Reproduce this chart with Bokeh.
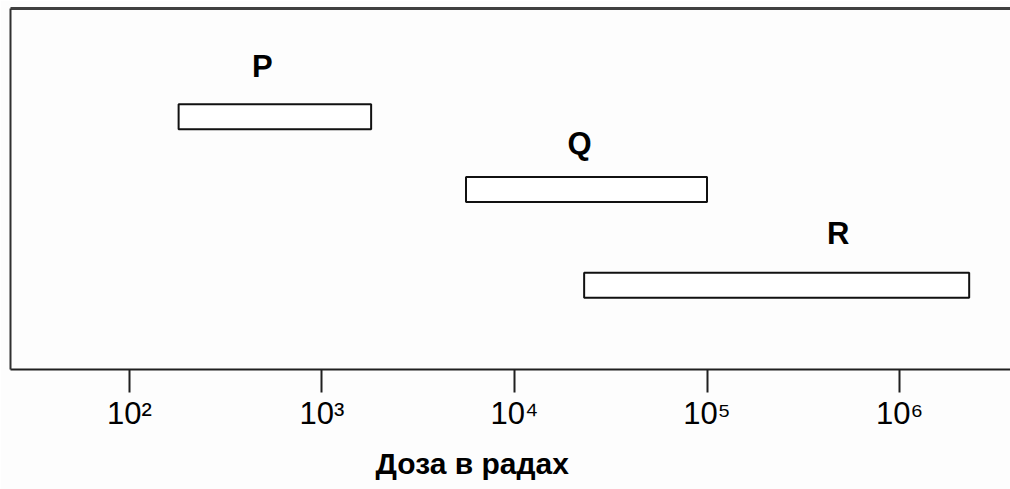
from bokeh.plotting import figure
from bokeh.models import Range1d, FixedTicker, LinearAxis, Title, ColumnDataSource
from bokeh.core.properties import value
from bokeh.embed import file_html
from bokeh.resources import INLINE

# Data
groups = ["P", "Q", "R"]
dose_low = [180, 5600, 23000]          # rad
dose_high = [1800, 100000, 2300000]    # rad
lane_y = [25.35, 18.05, 8.45]          # vertical lane of each bar
label_x = [490, 21800, 480000]         # where each letter sits (rad)
label_y = [30.35, 22.7, 13.65]
tick_values = [100, 1000, 10000, 100000, 1000000]
tick_labels = ["10²", "10³", "10⁴", "10⁵", "10⁶"]
axis_title = "Доза в радах"

BAR_HALF = 1.25
FONT = "Liberation Sans"
BG = "#fdfdfd"

src = ColumnDataSource(dict(
    left=dose_low, right=dose_high,
    bottom=[y - BAR_HALF for y in lane_y],
    top=[y + BAR_HALF for y in lane_y],
))

p = figure(
    x_axis_type="log",
    x_range=Range1d(24.1, 3.77e6),
    y_range=Range1d(0, 36.2),
    frame_width=1000, frame_height=361,
    min_border_left=10, min_border_right=0, min_border_top=8, min_border_bottom=0,
    output_backend="svg", toolbar_location=None,
    background_fill_color=BG, border_fill_color=BG,
    outline_line_color=None,
)
p.grid.visible = False

xa = p.below[0]
ya = p.left[0]

# left line
ya.ticker = FixedTicker(ticks=[])
ya.major_label_text_font_size = "0px"
ya.major_tick_out = 0
ya.major_tick_in = 0
ya.minor_tick_out = 0
ya.minor_tick_in = 0
ya.axis_line_width = 2
ya.axis_line_color = "#303030"

# top line
top_axis = LinearAxis(ticker=FixedTicker(ticks=[]), major_label_text_font_size="0px",
                      major_tick_out=0, major_tick_in=0, minor_tick_out=0, minor_tick_in=0,
                      axis_line_width=3, axis_line_color="#404040")
p.add_layout(top_axis, "above")

# bottom axis
xa.ticker = FixedTicker(ticks=tick_values)
xa.major_label_overrides = {v: s for v, s in zip(tick_values, tick_labels)}
xa.major_label_text_font = FONT
xa.major_label_text_font_size = "31px"
xa.major_label_text_color = "black"
xa.major_label_standoff = 3
xa.major_tick_out = 23
xa.major_tick_in = 0
xa.minor_tick_out = 0
xa.minor_tick_in = 0
xa.axis_line_width = 2
xa.axis_line_color = "#202020"
xa.major_tick_line_width = 2
xa.major_tick_line_color = "#202020"

title = Title(text=axis_title, align="left", offset=365,
              text_font=FONT, text_font_size="30px", text_font_style="bold",
              text_color="black", standoff=23)
p.add_layout(title, "below")

p.quad(left="left", right="right", bottom="bottom", top="top", source=src,
       fill_color="white", line_color="#111111", line_width=2)

p.text(x=label_x, y=label_y, text=groups,
       text_font=value(FONT), text_font_size="31px", text_font_style="bold",
       text_align="center", text_baseline="middle", text_color="black")

open("out.html", "w").write(file_html(p, INLINE))
